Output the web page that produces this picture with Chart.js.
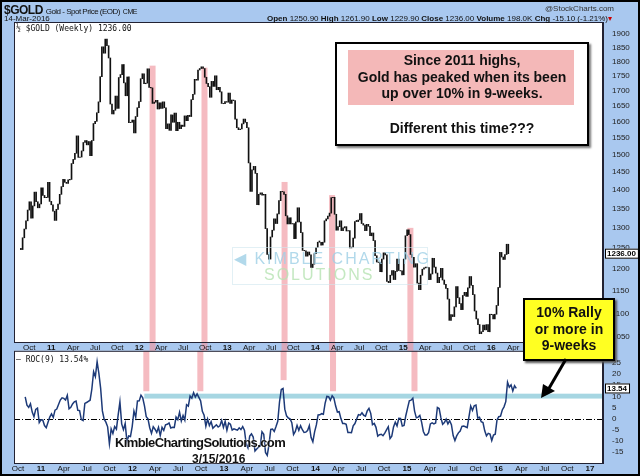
<!DOCTYPE html>
<html><head><meta charset="utf-8">
<script src="https://cdn.jsdelivr.net/npm/chart.js@4.4.0/dist/chart.umd.min.js"></script>
<style>
body{margin:0;width:640px;height:476px;overflow:hidden;font-family:"Liberation Sans",Arial,sans-serif}
#wrap{position:absolute;left:0;top:0;width:636px;height:472px;background:#a9c8ef;border:2px solid #000}
canvas{position:absolute;left:0}
.t{position:absolute;white-space:nowrap;color:#111}
</style></head><body>
<div id="wrap">
<canvas id="c1" style="top:0px" width="636" height="360"></canvas>
<canvas id="c2" style="top:343px" width="636" height="129"></canvas>
<div class="t" style="left:2px;top:1px;font-size:12px;font-weight:bold;letter-spacing:-0.5px">$GOLD <span style="font-size:8px;font-weight:normal">Gold - Spot Price (EOD)</span> <span style="font-size:7px;font-weight:normal">CME</span></div>
<div class="t" style="left:2px;top:12px;font-size:8px">14-Mar-2016</div>
<div class="t" style="right:24px;top:2px;font-size:8px;color:#333">@StockCharts.com</div>
<div class="t" style="right:26px;top:12px;font-size:8px"><b>Open</b> 1250.90 <b>High</b> 1261.90 <b>Low</b> 1229.90 <b>Close</b> 1236.00 <b>Volume</b> 198.0K <b>Chg</b> -15.10 (-1.21%)<span style="color:#c00">▾</span></div>
<div class="t" style="left:14px;top:22px;font-size:8px;font-family:'DejaVu Sans Mono',monospace">½ $GOLD (Weekly) 1236.00</div>
<div class="t" style="left:14px;top:353px;font-size:8px;font-family:'DejaVu Sans Mono',monospace">— ROC(9) 13.54%</div>
<div style="position:absolute;left:230px;top:245px;width:194px;height:36px;border:1px solid #cfe6ee;opacity:.6"></div>
<div class="t" style="left:232px;top:247px;font-size:16px;letter-spacing:2px;color:#9fd0e6;opacity:.8">◀ KIMBLE CHARTING</div>
<div class="t" style="left:262px;top:264px;font-size:16px;letter-spacing:2px;color:#b6e3b2;opacity:.8">SOLUTIONS</div>
<div style="position:absolute;left:333px;top:40px;width:250px;height:100px;border:2px solid #000;background:#fff;box-shadow:2px 2px 2px #777"></div>
<div style="position:absolute;left:346px;top:48px;width:226px;height:55px;background:#f4b8b8"></div>
<div class="t" style="left:335px;top:50px;width:250px;text-align:center;font-size:14px;font-weight:bold;line-height:16.5px">Since 2011 highs,<br>Gold has peaked when its been<br>up over 10% in 9-weeks.</div>
<div class="t" style="left:335px;top:118px;width:250px;text-align:center;font-size:14px;font-weight:bold">Different this time???</div>
<div style="position:absolute;left:521px;top:296px;width:88px;height:59px;border:2px solid #000;background:#ffff22;box-shadow:2px 2px 2px #555"></div>
<div class="t" style="left:521px;top:302px;width:92px;text-align:center;font-size:14px;font-weight:bold;line-height:16.5px">10% Rally<br>or more in<br>9-weeks</div>
<svg style="position:absolute;left:0;top:0" width="636" height="472"><line x1="564" y1="357" x2="546" y2="388" stroke="#000" stroke-width="3"/><polygon points="539,396 541,382 553,389" fill="#000"/></svg>
<div class="t" style="left:113px;top:433px;font-size:13px;font-weight:bold;letter-spacing:-0.6px;text-shadow:0 0 2px #fff">KimbleChartingSolutions.com</div>
<div class="t" style="left:190px;top:450px;font-size:12px;font-weight:bold;text-shadow:0 0 2px #fff">3/15/2016</div>
</div>
<script>
// weekly closes starting week of 2010-09-03
const startYear = 2010.654;
const closes = [
1246,1275,1297,1318, 1346,1368,1325,1357, 1394,1368,1352,1362, 1406,1385,1379,1380,1421,
1369,1360,1343,1319, 1348,1362,1388,1409, 1429,1421,1418,1428, 1429,1474,1486,1504,1556,
1492,1493,1511,1536, 1542,1529,1539,1497, 1542,1594,1601,1628, 1663,1747,1852,1829,
1880,1856,1812,1656,1624, 1636,1682,1642,1744, 1754,1789,1726,1683, 1746,1597,1598,1605,1565,
1616,1644,1664,1740, 1757,1723,1725,1774, 1711,1709,1658,1662,1668, 1640,1660,1642,1663,
1644,1578,1593,1573, 1621,1598,1627,1572,1598, 1578,1589,1585,1618, 1603,1620,1616,1670,1688,
1738,1735,1770,1775, 1781,1775,1745,1724,1713, 1678,1731,1714,1750, 1703,1711,1696,1658,1657,
1664,1662,1692,1658, 1669,1667,1608,1581, 1575,1577,1593,1608,1598, 1581,1476,1396,1456,
1466,1446,1360,1388,1392, 1386,1388,1298,1234, 1223,1277,1294,1323, 1311,1336,1371,1396,1395,
1388,1331,1310,1326, 1310,1311,1273,1315,1352, 1315,1288,1244,1243, 1230,1240,1233,1203,1211,
1236,1251,1264,1264, 1257,1264,1318,1323,1330, 1338,1379,1380,1335,1294, 1303,1318,1293,1300,
1303,1292,1293,1250, 1252,1274,1316,1316, 1320,1337,1311,1307, 1293,1309,1304,1280,1287,
1268,1231,1216,1215, 1193,1223,1238,1233,1171, 1168,1185,1196,1175, 1194,1223,1196,1195,
1186,1223,1280,1295,1283, 1234,1227,1204,1212, 1167,1152,1185,1199, 1202,1204,1203,1175,
1188,1225,1204,1190, 1168,1180,1201,1174, 1164,1155,1131,1085,1097, 1093,1114,1159,1134,
1121,1108,1139,1146, 1137,1156,1182,1162,1141, 1105,1088,1076,1057, 1061,1075,1065,1076,1061,
1098,1097,1088,1098,1117, 1157,1239,1228,1222, 1234,1259,1236];
const tickLabels = ['Oct','11','Apr','Jul','Oct','12','Apr','Jul','Oct','13','Apr','Jul','Oct','14','Apr','Jul','Oct','15','Apr','Jul','Oct','16','Apr','Jul','Oct','17'];
const priceTicks = [1050,1100,1150,1200,1250,1300,1350,1400,1450,1500,1550,1600,1650,1700,1750,1800,1850,1900];
const rocTicks = [-15,-10,-5,0,5,10,15,20,25];
const peakDates = [2012.15, 2012.74, 2013.65, 2014.19, 2015.08];
const peakPrices = [1785, 1778, 1422, 1386, 1300];
const peakRoc = [12.3, 12.3, 17.3, 12.3, 12.3];
const band = [9, 11.2];
const lastClose = '1236.00', lastRoc = '13.54';

const xMin = 2010.704, xMax = 2017.14;
const tickVals = tickLabels.map((l,i)=>2010.748 + i*0.25);
const dates = closes.map((c,i)=>startYear + i*7/365.25);
const bars = closes.map((c,i)=>{const p = i? closes[i-1] : c; return {x:dates[i], y:[Math.min(p,c), Math.max(p,c)+ (p===c?3:0)]};});
const roc = closes.map((c,i)=> i>=9 ? {x:dates[i], y:(c-closes[i-9])/closes[i-9]*100} : null).filter(Boolean);

const xAxis = ()=>({type:'linear', min:xMin, max:xMax, grid:{display:false}, border:{color:'#223'},
  afterBuildTicks:s=>{s.ticks = tickVals.map(v=>({value:v}));},
  ticks:{display:false}});
const bgPlugin = {id:'bg', beforeDraw(ch){const a=ch.chartArea,c=ch.ctx;c.save();c.fillStyle='#fff';c.fillRect(a.left,a.top,a.right-a.left,a.bottom-a.top);c.restore();},
  afterDraw(ch){const a=ch.chartArea,c=ch.ctx,sx=ch.scales.x;c.save();c.strokeStyle='#223';c.lineWidth=1;c.strokeRect(a.left+.5,a.top+.5,a.right-a.left-1,a.bottom-a.top);
    c.fillStyle='#111';c.textAlign='center';c.textBaseline='middle';
    tickVals.forEach((v,i)=>{const l=tickLabels[i];c.font=(/^\d/.test(l)?'bold ':'')+'8px Liberation Sans';c.fillText(l,sx.getPixelForValue(v),a.bottom+5.5);});
    c.restore();}};
function valueBox(ch, val, text){const c=ch.ctx, y=ch.scales.y.getPixelForValue(val), x=ch.chartArea.right+2;
  c.save();c.font='bold 8px Liberation Sans';const w=c.measureText(text).width+4;c.fillStyle='#fff';c.fillRect(x,y-5,w,10);c.strokeStyle='#000';c.strokeRect(x+.5,y-4.5,w,9);c.fillStyle='#000';c.textBaseline='middle';c.fillText(text,x+2,y);c.restore();}

new Chart(document.getElementById('c1'), {
  type:'bar',
  data:{datasets:[{data:bars, backgroundColor:'#111', barThickness:1, grouped:false}]},
  options:{responsive:false, animation:false,
    layout:{padding:{left:12, top:20, right:0, bottom:12}},
    plugins:{legend:{display:false}, tooltip:{enabled:false}},
    scales:{x:xAxis(),
      y:{type:'logarithmic', position:'right', min:1040, max:1944, grid:{display:false}, border:{color:'#223'},
        afterBuildTicks:s=>{s.ticks = priceTicks.map(v=>({value:v}));},
        afterFit:s=>{s.width = 35;},
        ticks:{autoSkip:false, padding:1, color:'#222', font:{size:8, family:'Liberation Sans'}, callback:v=>String(v)}}}},
  plugins:[bgPlugin,{id:'pk', beforeDatasetsDraw(ch){const c=ch.ctx; c.save(); c.fillStyle='rgba(240,150,160,0.65)';
      peakDates.forEach((d,i)=>{const x=ch.scales.x.getPixelForValue(d), y=ch.scales.y.getPixelForValue(peakPrices[i]); c.fillRect(x-3,y,6,352-y);}); c.restore();},
    afterDraw(ch){valueBox(ch,1236,lastClose);}}]
});

new Chart(document.getElementById('c2'), {
  type:'line',
  data:{datasets:[{data:roc, borderColor:'#1d3a78', borderWidth:1.5, pointRadius:0, tension:0}]},
  options:{responsive:false, animation:false,
    layout:{padding:{left:12, top:0, right:0, bottom:3}},
    plugins:{legend:{display:false}, tooltip:{enabled:false}},
    scales:{x:xAxis(),
      y:{position:'right', min:-20, max:30.5, grid:{display:false}, border:{color:'#223'},
        afterBuildTicks:s=>{s.ticks = rocTicks.map(v=>({value:v}));},
        afterFit:s=>{s.width = 35;},
        ticks:{autoSkip:false, padding:1, color:'#222', font:{size:8, family:'Liberation Sans'}}}}},
  plugins:[bgPlugin,{id:'ann', beforeDatasetsDraw(ch){const c=ch.ctx, sx=ch.scales.x, sy=ch.scales.y, a=ch.chartArea; c.save();
      c.fillStyle='#a6d6e2'; const y1=sy.getPixelForValue(band[1]), y0=sy.getPixelForValue(band[0]);
      c.fillRect(sx.getPixelForValue(peakDates[0])-2, y1, a.right-sx.getPixelForValue(peakDates[0])+2, y0-y1);
      c.fillStyle='rgba(240,150,160,0.65)';
      peakDates.forEach((d,i)=>{const x=sx.getPixelForValue(d), y=sy.getPixelForValue(peakRoc[i]); c.fillRect(x-3,a.top,6,y-a.top);});
      c.strokeStyle='#000'; c.setLineDash([6,2,1,2]); c.lineWidth=1; const z=Math.round(sy.getPixelForValue(0))+.5;
      c.beginPath(); c.moveTo(a.left,z); c.lineTo(a.right,z); c.stroke(); c.restore();},
    afterDraw(ch){valueBox(ch,13.54,lastRoc);}}]
});
</script></body></html>
